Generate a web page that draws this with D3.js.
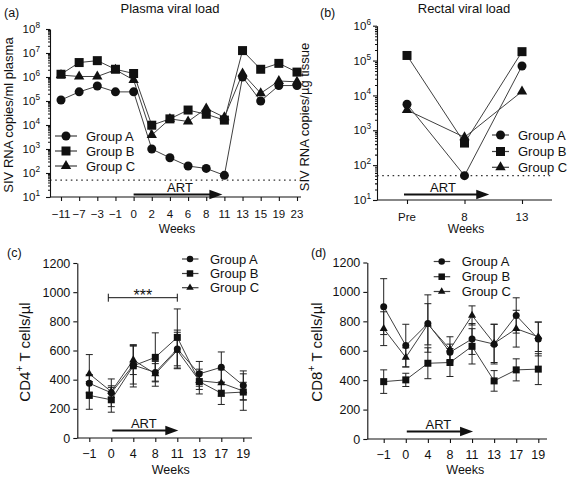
<!DOCTYPE html>
<html><head><meta charset="utf-8">
<script src="https://cdnjs.cloudflare.com/ajax/libs/d3/7.8.5/d3.min.js"></script>
<style>
body{margin:0;background:#fff}
svg{display:block}
text{font-family:"Liberation Sans",Arial,Helvetica,sans-serif;fill:#111}
</style>
</head><body>
<svg id="chart" width="568" height="479"></svg>
<script>
// ---------- data ----------
const groups = ["Group A", "Group B", "Group C"];
const symbols = ["circle", "square", "triangle"];

const plasmaWeeks = ["−11","−7","−3","−1","0","2","4","6","8","11","13","15","19","23"];
const plasmaA = [1.1e5, 2.4e5, 4.2e5, 2.4e5, 2.4e5, 1.0e3, 430, 195, 155, 80, 1.0e6, 1.0e5, 4.4e5, 4.4e5];
const plasmaB = [1.3e6, 4.0e6, 4.8e6, 2.1e6, 1.4e6, 9.8e3, 1.8e4, 4.2e4, 2.8e4, 1.6e4, 1.26e7, 2.1e6, 3.7e6, 1.6e6];
const plasmaC = [1.2e6, 1.05e6, 1.05e6, 2.0e6, 7.5e5, 3.8e3, 1.8e4, 1.4e4, 4.9e4, 2.1e4, 1.4e6, 2.1e5, 6.8e5, 6.3e5];

const rectalWeeks = ["Pre", "8", "13"];
const rectalA = [5.6e3, 50, 7.0e4];
const rectalB = [1.4e5, 430, 1.8e5];
const rectalC = [3.8e3, 630, 1.3e4];

const detectionLimit = 50;

const cellWeeks = ["−1","0","4","8","11","13","17","19"];
const cd4A = [375, 310, 500, 450, 610, 440, 485, 360];
const cd4B = [292, 262, 495, 553, 690, 387, 307, 315];
const cd4C = [440, 318, 535, 440, 600, 393, 377, 322];
const cd4ErrA = [60, 95, 130, 60, 130, 85, 105, 100];
const cd4ErrB = [95, 85, 145, 168, 195, 85, 77, 125];
const cd4ErrC = [132, 40, 100, 85, 125, 60, 90, 60];

const cd8A = [900, 635, 785, 590, 680, 645, 840, 680];
const cd8B = [390, 402, 515, 520, 630, 395, 470, 475];
const cd8C = [750, 555, 780, 610, 840, 650, 750, 695];
const cd8ErrA = [190, 145, 195, 55, 105, 135, 120, 115];
const cd8ErrB = [80, 45, 105, 95, 120, 70, 75, 105];
const cd8ErrC = [115, 65, 140, 85, 65, 130, 125, 100];

const logTicks = [1e1, 1e2, 1e3, 1e4, 1e5, 1e6, 1e7, 1e8];
const cellTicks = [0, 200, 400, 600, 800, 1000, 1200];

// ---------- helpers ----------
const svg = d3.select("#chart");
const INK = "#111", LINE = "#404040";

function symPath(type, s) {
  if (type === "circle") return d3.symbol(d3.symbolCircle, Math.PI * (s / 2) * (s / 2))();
  if (type === "square") { const h = s / 2; return `M${-h},${-h}h${s}v${s}h${-s}Z`; }
  const side = s * 1.15, ht = side * 0.866;
  return `M0,${-ht * 2 / 3}L${side / 2},${ht / 3}L${-side / 2},${ht / 3}Z`;
}

function minorTicks(lo, hi) {
  const out = [];
  for (let d = lo; d < hi; d *= 10) for (let k = 2; k <= 9; k++) out.push(k * d);
  return out;
}

function drawSeries(g, x, y, weeks, vals, type, size, errs, capW) {
  if (errs) {
    const eg = g.append("g").attr("stroke", "#222").attr("stroke-width", 1);
    vals.forEach((v, i) => {
      const cx = x(weeks[i]);
      eg.append("line").attr("x1", cx).attr("x2", cx).attr("y1", y(v - errs[i])).attr("y2", y(v + errs[i]));
      [v - errs[i], v + errs[i]].forEach(e => {
        eg.append("line").attr("x1", cx - capW).attr("x2", cx + capW).attr("y1", y(e)).attr("y2", y(e));
      });
    });
  }
  g.append("path")
    .attr("d", d3.line().x((d, i) => x(weeks[i])).y(d => y(d))(vals))
    .attr("fill", "none").attr("stroke", LINE).attr("stroke-width", 1);
}
function drawMarkers(g, x, y, weeks, vals, type, size) {
  g.selectAll(null).data(vals).enter().append("path")
    .attr("d", symPath(type, size))
    .attr("transform", (d, i) => `translate(${x(weeks[i])},${y(d)})`)
    .attr("fill", INK);
}

function legend(g, x0, x1, xm, xt, ys, size, fs) {
  groups.forEach((name, i) => {
    g.append("line").attr("x1", x0).attr("x2", x1).attr("y1", ys[i]).attr("y2", ys[i])
      .attr("stroke", LINE).attr("stroke-width", 1.2);
    g.append("path").attr("d", symPath(symbols[i], size)).attr("transform", `translate(${xm},${ys[i]})`).attr("fill", INK);
    g.append("text").attr("x", xt).attr("y", ys[i] + fs * 0.36).attr("font-size", fs).text(name);
  });
}

function artArrow(g, x0, x1, y, tx) {
  g.append("line").attr("x1", x0).attr("x2", x1 - 11).attr("y1", y).attr("y2", y)
    .attr("stroke", INK).attr("stroke-width", 2.2);
  g.append("path").attr("d", `M${x1},${y}L${x1 - 13},${y - 4.8}L${x1 - 13},${y + 4.8}Z`).attr("fill", INK);
  g.append("text").attr("x", tx).attr("y", y - 2.3).attr("text-anchor", "middle").attr("font-size", 13).text("ART");
}

function styleAxis(sel) {
  sel.selectAll("path.domain").attr("stroke", INK).attr("stroke-width", 1.1);
  sel.selectAll(".tick line").attr("stroke", INK).attr("stroke-width", 1.1);
}

function logYAxis(g, y, ax, lo, hi, labelRight, fs) {
  const major = logTicks.filter(v => v >= lo && v <= hi);
  const a = g.append("g").attr("transform", `translate(${ax},0)`)
    .call(d3.axisLeft(y).tickValues(major).tickSize(4).tickSizeOuter(0).tickFormat(""));
  styleAxis(a);
  const m = g.append("g").attr("transform", `translate(${ax},0)`)
    .call(d3.axisLeft(y).tickValues(minorTicks(lo, hi)).tickSize(2).tickSizeOuter(0).tickFormat(""));
  styleAxis(m);
  m.select("path.domain").remove();
  major.forEach(v => {
    const t = g.append("text").attr("x", labelRight).attr("y", y(v) + fs * 0.36)
      .attr("text-anchor", "end").attr("font-size", fs);
    t.append("tspan").text("10");
    t.append("tspan").attr("dy", -fs * 0.45).attr("font-size", fs * 0.72).text(Math.round(Math.log10(v)));
  });
}

function catXAxis(g, x, weeks, yAxis, xl, xr, fs, labelY) {
  const a = g.append("g").attr("transform", `translate(0,${yAxis})`)
    .call(d3.axisBottom(x).tickSize(4).tickFormat(""));
  styleAxis(a);
  a.select("path.domain").remove();
  g.append("line").attr("x1", xl).attr("x2", xr).attr("y1", yAxis).attr("y2", yAxis)
    .attr("stroke", INK).attr("stroke-width", 1.1);
  weeks.forEach(w => {
    g.append("text").attr("x", x(w)).attr("y", labelY).attr("text-anchor", "middle").attr("font-size", fs).text(w);
  });
}

function yLabel(g, x, y, fs, parts) {
  const t = g.append("text").attr("transform", `translate(${x},${y}) rotate(-90)`)
    .attr("text-anchor", "middle").attr("font-size", fs);
  parts.forEach(p => {
    const ts = t.append("tspan").text(p.t);
    if (p.sup) ts.attr("dy", -fs * 0.42).attr("font-size", fs * 0.7);
    if (p.after) ts.attr("dy", fs * 0.42);
  });
}

// ---------- panel (a) ----------
{
  const g = svg.append("g");
  const x = d3.scalePoint().domain(plasmaWeeks).range([61, 297]);
  const y = d3.scaleLog().domain([10, 1e8]).range([197, 29]);
  g.append("text").attr("x", 4).attr("y", 17).attr("font-size", 12.5).text("(a)");
  g.append("text").attr("x", 170).attr("y", 13).attr("text-anchor", "middle").attr("font-size", 13).text("Plasma viral load");
  yLabel(g, 12.5, 115, 13, [{t: "SIV RNA copies/ml plasma"}]);
  g.append("line").attr("x1", 50).attr("x2", 301).attr("y1", y(detectionLimit)).attr("y2", y(detectionLimit))
    .attr("stroke", "#333").attr("stroke-width", 1.2).attr("stroke-dasharray", "1.6,3.6");
  logYAxis(g, y, 50, 10, 1e8, 40, 11.5);
  catXAxis(g, x, plasmaWeeks, 197, 50, 301, 11.5, 217.5);
  g.append("text").attr("x", 177).attr("y", 233).attr("text-anchor", "middle").attr("font-size", 12).text("Weeks");
  artArrow(g, x("0"), x("11") - 2, 194.5, 180);
  const data = [plasmaA, plasmaB, plasmaC];
  data.forEach((v, i) => drawSeries(g, x, y, plasmaWeeks, v, symbols[i], 9));
  [2, 0, 1].forEach(i => drawMarkers(g, x, y, plasmaWeeks, data[i], symbols[i], 9));
  legend(g, 55, 77, 66, 86, [136, 151, 166], 9, 13);
}

// ---------- panel (b) ----------
{
  const g = svg.append("g");
  const x = d3.scalePoint().domain(rectalWeeks).range([407, 522]);
  const y = d3.scaleLog().domain([10, 1e6]).range([200, 25.7]);
  g.append("text").attr("x", 320).attr("y", 17).attr("font-size", 12.5).text("(b)");
  g.append("text").attr("x", 464).attr("y", 13).attr("text-anchor", "middle").attr("font-size", 13).text("Rectal viral load");
  yLabel(g, 308.5, 117, 13, [{t: "SIV RNA copies/µg tissue"}]);
  g.append("line").attr("x1", 377).attr("x2", 552).attr("y1", y(detectionLimit)).attr("y2", y(detectionLimit))
    .attr("stroke", "#333").attr("stroke-width", 1.2).attr("stroke-dasharray", "1.6,3.6");
  logYAxis(g, y, 377, 10, 1e6, 371, 11.5);
  catXAxis(g, x, rectalWeeks, 200, 377, 552, 11.5, 221);
  g.append("text").attr("x", 466).attr("y", 233).attr("text-anchor", "middle").attr("font-size", 12).text("Weeks");
  artArrow(g, x("Pre") - 3, x("8") + 0.43 * (x("13") - x("8")), 194.5, 443);
  const data = [rectalA, rectalB, rectalC];
  data.forEach((v, i) => drawSeries(g, x, y, rectalWeeks, v, symbols[i], 9));
  [2, 0, 1].forEach(i => drawMarkers(g, x, y, rectalWeeks, data[i], symbols[i], 9));
  legend(g, 492, 509, 500.5, 518, [135, 151.5, 167.3], 9, 13);
}

// ---------- cell panels ----------
function cellPanel(tag, tagX, lbl, lblX, x0, x1, axL, axR, yBottom, yTop, A, B, C, eA, eB, eC, legX, legYs, sig) {
  const g = svg.append("g");
  const x = d3.scalePoint().domain(cellWeeks).range([x0, x1]);
  const y = d3.scaleLinear().domain([0, 1200]).range([yBottom, yTop]);
  g.append("text").attr("x", tagX).attr("y", 257).attr("font-size", 12.5).text(tag);
  yLabel(g, lblX, 352, 15, [{t: lbl}, {t: "+", sup: true}, {t: " T cells/µl", after: true}]);
  const a = g.append("g").attr("transform", `translate(${axL},0)`)
    .call(d3.axisLeft(y).tickValues(cellTicks).tickSize(4).tickSizeOuter(0).tickPadding(3).tickFormat(d3.format("d")));
  styleAxis(a);
  a.selectAll(".tick text").attr("font-size", 12.5).attr("fill", INK)
    .attr("font-family", '"Liberation Sans",Arial,sans-serif');
  catXAxis(g, x, cellWeeks, yBottom, axL, axR, 12.5, yBottom + 19.5);
  g.append("text").attr("x", (axL + axR) / 2 + 0.5 * (x0 - axL)).attr("y", 474).attr("text-anchor", "middle").attr("font-size", 12.5).text("Weeks");
  artArrow(g, x("0") + 1, x("11") + 1, yBottom - 7.5, (x("0") + x("11")) / 2 - 0.5);
  if (sig) {
    const sx0 = x("0") - 3, sx1 = x("11"), sy = 297.7;
    g.append("path").attr("d", `M${sx0},${sy - 4}V${sy + 4}M${sx0},${sy}H${sx1}M${sx1},${sy - 4}V${sy + 4}`)
      .attr("stroke", INK).attr("fill", "none").attr("stroke-width", 1);
    g.append("text").attr("x", (sx0 + sx1) / 2).attr("y", sy + 3).attr("text-anchor", "middle").attr("font-size", 16).text("***");
  }
  const data = [A, B, C], errs = [eA, eB, eC];
  data.forEach((v, i) => drawSeries(g, x, y, cellWeeks, v, symbols[i], 7, errs[i], 3.5));
  [2, 0, 1].forEach(i => drawMarkers(g, x, y, cellWeeks, data[i], symbols[i], 7));
  legend(g, legX - 8, legX + 8.5, legX, legX + 20, legYs, 6.5, 13);
}

cellPanel("(c)", 7, "CD4", 29.5, 89.3, 243.3, 77.3, 252, 438, 263,
  cd4A, cd4B, cd4C, cd4ErrA, cd4ErrB, cd4ErrC, 190, [259, 273.5, 287.7], true);
cellPanel("(d)", 311, "CD8", 321.5, 383.7, 538.3, 367.3, 547, 439, 262.5,
  cd8A, cd8B, cd8C, cd8ErrA, cd8ErrB, cd8ErrC, 441.7, [261.5, 276.7, 291.5], false);
</script>
</body></html>
